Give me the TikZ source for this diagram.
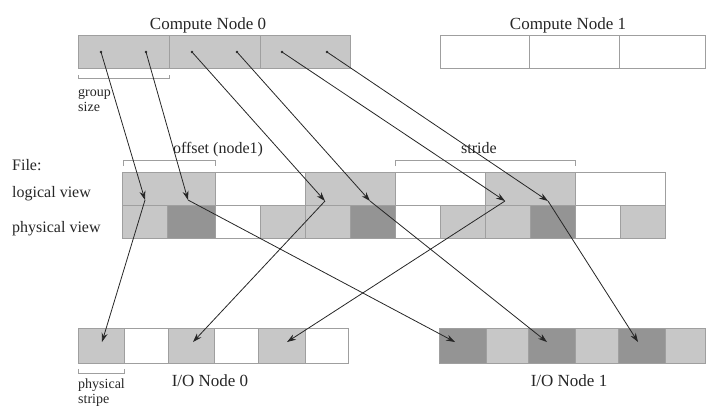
\documentclass[tikz,border=0pt]{standalone}
\usepackage{fontspec}
\setmainfont{Liberation Serif}
\usetikzlibrary{arrows.meta}
\begin{document}
\begin{tikzpicture}[x=1pt,y=-1pt,
  cell/.style={draw=gray!75, line width=0.6pt},
  lite/.style={cell, fill=black!22},
  darkc/.style={cell, fill=black!42},
  blank/.style={cell, fill=white},
  big/.style={font=\fontsize{17}{15}\selectfont, text=black!85, inner sep=0pt},
  small/.style={font=\fontsize{16}{14}\selectfont, text=black!85, inner sep=0pt, align=left},
  tiny/.style={font=\fontsize{14}{13}\selectfont, text=black!85, inner sep=0pt, align=left},
  brk/.style={draw=gray!75, line width=0.6pt},
  conn/.style={draw=black!85, line width=0.8pt},
  arr/.style={conn, -{Stealth[length=9pt,width=6pt]}},
  startdot/.style={circle, fill=black!85, inner sep=0pt, minimum size=2.6pt}
]
\useasboundingbox (0,0) rectangle (706,408);

% ---------- Compute Node 0 ----------
\draw[lite] (78,35) rectangle (169,68);
\draw[lite] (169,35) rectangle (260,68);
\draw[lite] (260,35) rectangle (350,68);
\node[big, anchor=base] (cn0) at (208,29) {Compute Node 0};

% ---------- Compute Node 1 ----------
\draw[blank] (440,35) rectangle (529,68);
\draw[blank] (529,35) rectangle (619,68);
\draw[blank] (619,35) rectangle (705,68);
\node[big, anchor=base] (cn1) at (568,29) {Compute Node 1};

% group size bracket
\draw[brk] (78,75) -- (78,78) -- (169,78) -- (169,75);
\node[tiny, anchor=base west] (gs) at (78,96) {group};
\node[tiny, anchor=base west] (gs2) at (78,111) {size};

% ---------- File ----------
\node[small, anchor=base west] (file) at (12,170) {File:};
\node[small, anchor=base west] (lv) at (12,197) {logical view};
\node[small, anchor=base west] (pv) at (12,232) {physical view};

% logical view row
\foreach \a/\b/\s in {122/215/lite,215/305/blank,305/395/lite,395/485/blank,485/575/lite,575/665/blank}
  \draw[\s] (\a,172) rectangle (\b,205);
% physical view row
\foreach \a/\b/\s in {122/167/lite,167/215/darkc,215/260/blank,260/305/lite,
                      305/350/lite,350/395/darkc,395/440/blank,440/485/lite,
                      485/530/lite,530/575/darkc,575/620/blank,620/665/lite}
  \draw[\s] (\a,205) rectangle (\b,238);

% offset / stride brackets
\draw[brk] (123,166) -- (123,160) -- (215,160) -- (215,166);
\node[small, anchor=base] (off) at (218,153) {offset (node1)};
\draw[brk] (395,166) -- (395,160) -- (575,160) -- (575,166);
\node[small, anchor=base] (str) at (479,153) {stride};

% ---------- I/O Node 0 ----------
\foreach \a/\b/\s in {78/124/lite,124/168/blank,168/214/lite,214/258/blank,258/305/lite,305/348/blank}
  \draw[\s] (\a,328) rectangle (\b,363);
\node[big, anchor=base] (io0) at (210,386) {I/O Node 0};
\draw[brk] (78,369) -- (78,373) -- (124,373) -- (124,369);
\node[tiny, anchor=base west] (ps) at (78,388) {physical};
\node[tiny, anchor=base west] (ps2) at (78,403) {stripe};

% ---------- I/O Node 1 ----------
\foreach \a/\b/\s in {439/486/darkc,486/528/lite,528/575/darkc,575/618/lite,618/665/darkc,665/705/lite}
  \draw[\s] (\a,328) rectangle (\b,363);
\node[big, anchor=base] (io1) at (569,386) {I/O Node 1};

% ---------- connector end points ----------
\coordinate (s1) at (101,52);
\coordinate (s2) at (146,52);
\coordinate (s3) at (192,52);
\coordinate (s4) at (237,52);
\coordinate (s5) at (282,52);
\coordinate (s6) at (327,52);

\coordinate (l1) at (145,200);
\coordinate (l2) at (188,200);
\coordinate (l3) at (325,201);
\coordinate (l4) at (370,201);
\coordinate (l5) at (505,201);
\coordinate (l6) at (548,201);

\coordinate (t1) at (102,342);
\coordinate (t2) at (455,342);
\coordinate (t3) at (193,342);
\coordinate (t4) at (547,342);
\coordinate (t5) at (287,342);
\coordinate (t6) at (638,342);

\foreach \i in {1,...,6} {
  \node[startdot] (d\i) at (s\i) {};
  \draw[arr] (s\i) -- (l\i);
  \draw[arr] (l\i) -- (t\i);
}
\end{tikzpicture}
\end{document}
